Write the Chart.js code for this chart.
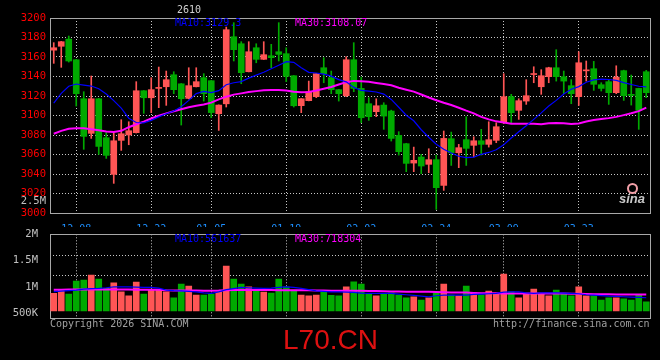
<!DOCTYPE html>
<html>
<head>
<meta charset="utf-8">
<script src="https://cdn.jsdelivr.net/npm/chart.js@4.4.1/dist/chart.umd.min.js"></script>
<style>
html,body{margin:0;padding:0;background:#000;width:660px;height:360px;overflow:hidden;}
#wrap{position:relative;width:660px;height:360px;background:#000;}
canvas{position:absolute;left:0;}
.t{position:absolute;font-family:'DejaVu Sans Mono',monospace;font-size:10px;line-height:10px;white-space:nowrap;z-index:5;}
</style>
</head>
<body>
<div id="wrap">
  <canvas id="main" width="660" height="227" style="top:0;z-index:2;"></canvas>
  <canvas id="vol" width="660" height="106" style="top:224px;z-index:1;"></canvas>

  <div class="t" style="left:177px;top:5px;color:#d0d0d0;">2610</div>
  <div class="t" style="left:175px;top:18px;color:#0000ff;">MA10:3129.3</div>
  <div class="t" style="left:295px;top:18px;color:#ff00ff;">MA30:3108.07</div>
  <div class="t" style="left:0;top:195px;width:46px;text-align:right;color:#c0c0c0;font-size:10.5px;">2.5M</div>

  <div class="t" style="left:175px;top:234px;color:#0000ff;">MA10:561637</div>
  <div class="t" style="left:295px;top:234px;color:#ff00ff;">MA30:718304</div>

  <div class="t" style="left:50px;top:319px;color:#a0a0a0;">Copyright 2026 SINA.COM</div>
  <div class="t" style="left:493px;top:319px;color:#a0a0a0;">http://finance.sina.com.cn</div>

  <div style="position:absolute;left:283px;top:326px;font-family:'Liberation Sans',Arial,sans-serif;font-size:28px;line-height:28px;color:#dd1111;z-index:5;">L70.CN</div>

  <div style="position:absolute;left:627px;top:183px;width:7px;height:7px;border:2px solid #f2a0a8;border-radius:50%;z-index:5;"></div>
  <div style="position:absolute;left:619px;top:192px;font-family:'Liberation Sans',Arial,sans-serif;font-weight:bold;font-style:italic;font-size:13px;line-height:13px;color:#c8c8c8;z-index:5;">sina</div>
</div>

<script>
// ---------- data ----------
const dates = ['12-03','12-04','12-05','12-08','12-09','12-10','12-11','12-12','12-15','12-16',
 '12-17','12-18','12-19','12-22','12-23','12-24','12-25','12-26','12-29','12-30',
 '12-31','01-05','01-06','01-07','01-08','01-09','01-12','01-13','01-14','01-15',
 '01-16','01-19','01-20','01-21','01-22','01-23','01-26','01-27','01-28','01-29',
 '01-30','02-02','02-03','02-04','02-05','02-06','02-09','02-10','02-11','02-12',
 '02-13','02-24','02-25','02-26','02-27','03-02','03-03','03-04','03-05','03-06',
 '03-09','03-10','03-11','03-12','03-13','03-16','03-17','03-18','03-19','03-20',
 '03-23','03-24','03-25','03-26','03-27','03-30','03-31','04-01','04-02','04-03'];

const tickDates = ['12-08','12-22','01-05','01-19','02-02','02-24','03-09','03-23'];

const openP = [3167.0,3171.0,3178.4,3157.2,3117.2,3081.7,3117.2,3077.2,3039.6,3074.5,
 3080.0,3082.4,3125.4,3118.2,3127.8,3129.5,3141.8,3132.5,3117.5,3129.5,
 3138.8,3135.7,3101.8,3112.0,3180.8,3173.6,3144.9,3169.5,3157.6,3161.3,
 3165.4,3163.4,3140.8,3110.1,3115.2,3119.3,3149.0,3138.8,3126.5,3120.3,
 3157.2,3127.8,3112.1,3103.9,3110.7,3104.6,3079.6,3071.1,3051.2,3057.4,
 3049.9,3054.7,3028.3,3076.2,3061.8,3075.2,3069.4,3074.1,3070.4,3074.5,
 3092.6,3119.3,3105.3,3114.8,3142.0,3129.5,3139.8,3149.0,3139.8,3130.6,
 3119.3,3145.8,3148.0,3131.6,3134.7,3123.4,3146.0,3121.7,3127.8,3144.9];

const highP = [3174.7,3176.0,3181.5,3157.5,3124.4,3140.5,3117.5,3082.4,3082.4,3095.7,
 3093.6,3134.7,3125.6,3138.8,3149.7,3145.6,3144.9,3132.8,3149.0,3149.0,
 3142.9,3135.9,3110.9,3190.7,3195.2,3175.7,3175.7,3173.6,3175.7,3173.0,
 3195.2,3169.5,3141.0,3117.4,3135.3,3143.1,3159.3,3145.6,3126.7,3160.3,
 3174.7,3139.4,3118.3,3117.2,3113.1,3105.5,3083.4,3071.5,3067.6,3060.1,
 3065.9,3059.4,3084.1,3083.0,3070.4,3098.8,3078.2,3085.8,3093.6,3092.6,
 3142.9,3121.7,3117.2,3136.7,3150.0,3147.0,3149.5,3167.5,3145.6,3136.7,
 3165.4,3155.9,3155.5,3133.6,3137.0,3151.0,3146.5,3141.5,3128.0,3146.3];

const lowP = [3153.5,3149.4,3154.8,3109.7,3065.3,3076.5,3060.1,3056.0,3030.4,3064.2,
 3070.0,3082.0,3102.2,3102.9,3108.0,3110.4,3122.4,3090.2,3117.0,3129.3,
 3114.8,3097.7,3084.7,3108.7,3155.9,3132.6,3144.7,3154.1,3157.4,3149.0,
 3155.9,3134.7,3108.7,3102.9,3115.0,3118.3,3133.6,3122.4,3114.8,3119.3,
 3124.4,3092.6,3095.0,3098.8,3085.8,3073.8,3059.4,3042.4,3042.4,3040.3,
 3041.3,3003.7,3023.2,3048.8,3046.5,3048.8,3057.4,3059.4,3067.6,3072.1,
 3091.6,3091.6,3096.0,3111.4,3133.6,3121.7,3133.6,3135.3,3122.4,3112.1,
 3110.4,3135.3,3125.8,3125.1,3111.4,3122.4,3115.5,3110.7,3085.8,3118.3];

const closeP = [3169.5,3175.7,3155.9,3122.4,3078.6,3117.2,3068.3,3059.1,3074.1,3081.3,
 3084.4,3125.4,3118.2,3126.5,3128.3,3136.7,3126.5,3117.2,3130.6,3134.7,
 3122.4,3103.0,3110.7,3188.0,3167.5,3143.9,3165.4,3157.6,3162.4,3159.3,
 3162.7,3140.1,3110.0,3117.2,3124.4,3142.9,3142.9,3126.5,3122.4,3157.2,
 3127.8,3097.7,3098.8,3110.0,3099.4,3076.5,3062.9,3050.9,3054.0,3048.2,
 3054.7,3026.0,3076.5,3061.8,3067.0,3066.3,3074.1,3070.4,3075.2,3088.5,
 3119.3,3102.9,3115.2,3120.3,3142.6,3140.8,3149.0,3139.8,3135.3,3122.4,
 3154.1,3146.5,3132.0,3127.8,3123.4,3139.4,3120.3,3120.6,3105.3,3123.4];

const ma10P = [3112.7,3122.7,3130.0,3132.3,3131.2,3130.2,3127.5,3122.0,3115.3,3107.5,
 3097.2,3092.8,3092.4,3095.0,3098.6,3101.8,3104.6,3109.0,3115.5,3122.5,
 3124.7,3123.5,3125.5,3131.5,3133.6,3134.8,3138.3,3141.4,3144.3,3148.0,
 3151.5,3155.2,3154.5,3149.0,3144.3,3143.6,3142.5,3140.4,3136.8,3134.5,
 3128.8,3125.7,3125.0,3124.1,3122.0,3116.5,3108.5,3100.3,3094.6,3085.4,
 3077.7,3070.5,3065.4,3061.6,3058.2,3056.8,3057.3,3060.2,3062.1,3064.8,
 3070.0,3076.9,3083.4,3089.5,3096.0,3102.7,3109.8,3115.5,3122.0,3127.0,
 3129.6,3134.1,3136.5,3137.3,3136.9,3136.1,3133.7,3131.8,3130.0,3129.3];

const ma30P = [3081.3,3084.2,3086.3,3087.0,3087.0,3086.0,3084.8,3083.5,3083.2,3084.3,
 3088.0,3091.0,3093.7,3096.9,3099.7,3102.2,3104.3,3106.4,3108.5,3110.0,
 3111.2,3113.2,3116.5,3119.3,3121.4,3122.7,3124.1,3125.0,3126.0,3126.1,
 3126.1,3125.6,3124.4,3123.9,3124.2,3125.6,3127.4,3129.3,3131.8,3134.2,
 3135.5,3135.2,3134.5,3133.4,3132.3,3131.0,3128.5,3126.5,3124.5,3121.5,
 3118.5,3115.7,3113.1,3110.7,3108.0,3105.0,3102.2,3098.6,3096.0,3094.0,
 3092.8,3091.6,3091.6,3091.6,3091.5,3091.0,3092.0,3092.2,3092.0,3091.3,
 3091.8,3093.8,3095.3,3096.4,3097.3,3098.6,3100.4,3102.3,3104.5,3108.07];

const volume = [881000,943000,868000,1113000,1132000,1226000,1151000,975000,1081000,911000,
 836000,1094000,868000,943000,943000,911000,798000,1057000,1019000,849000,
 849000,868000,911000,1396000,1151000,1057000,1006000,925000,906000,887000,
 1151000,1006000,943000,849000,836000,849000,925000,843000,836000,1006000,
 1100000,1057000,868000,836000,868000,892000,849000,798000,817000,755000,
 798000,881000,1057000,849000,836000,1019000,892000,849000,925000,881000,
 1245000,911000,798000,881000,962000,881000,836000,943000,868000,836000,
 1006000,836000,836000,755000,798000,798000,779000,755000,849000,723000];

const ma10V = [915000,925000,934000,943000,962000,972000,975000,988000,1006000,1006000,
 1006000,1000000,994000,994000,981000,943000,934000,930000,919000,911000,
 892000,881000,911000,953000,972000,994000,987000,981000,975000,981000,
 994000,1006000,994000,975000,953000,930000,919000,911000,911000,906000,
 900000,887000,881000,881000,881000,881000,868000,855000,843000,830000,
 817000,836000,849000,849000,849000,849000,862000,868000,874000,881000,
 906000,911000,911000,892000,881000,892000,892000,892000,887000,881000,
 874000,855000,849000,840000,830000,825000,817000,811000,806000,798000];

const ma30V = [950000,951000,953000,953000,954000,955000,955000,955000,954000,953000,
 953000,952000,951000,950000,948000,940000,937000,935000,934000,934000,
 933000,933000,934000,940000,943000,944000,944000,943000,943000,943000,
 942000,942000,942000,941000,940000,938000,935000,932000,930000,930000,
 930000,929000,928000,926000,922000,918000,915000,914000,913000,912000,
 910000,905000,902000,900000,898000,896000,890000,886000,884000,882000,
 881000,881000,881000,880000,880000,880000,879000,878000,877000,876000,
 874000,868000,865000,864000,863000,862000,862000,862000,862000,862000];

const priceMin = 3000, priceMax = 3200, priceStep = 20;
const volTickValues = [500000, 1000000, 1500000, 2000000];
const volTickLabels = ['500K', '1M', '1.5M', '2M'];
const volMin = 415000, volMax = 2000000, volBase = 547000;
// hidden grid scale for the volume pane's dotted rules
const volGridMin = -0.157, volGridMax = 4.086;

// ---------- style ----------
const UP = '#ff5555', DOWN = '#00aa00';
const GRID = '#c8c8c8';
const MONO = 'DejaVu Sans Mono';
const candleColors = openP.map((o, i) => closeP[i] >= o ? UP : DOWN);

// frame + dotted date rules, placed at the category scale's own tick pixels
const frame = {
  id: 'frame',
  beforeDatasetsDraw(chart) {
    const { ctx, chartArea: a } = chart;
    const s = chart.scales.x;
    ctx.save();
    ctx.strokeStyle = GRID;
    ctx.lineWidth = 1;
    ctx.setLineDash([1, 2]);
    s.ticks.forEach((t, i) => {
      const x = Math.round(s.getPixelForTick(i) - 0.5) + 0.5;
      ctx.beginPath();
      ctx.moveTo(x, a.top);
      ctx.lineTo(x, a.bottom);
      ctx.stroke();
    });
    ctx.setLineDash([]);
    ctx.strokeStyle = '#a8a8a8';
    ctx.strokeRect(Math.round(a.left) + 0.5, Math.round(a.top) + 0.5,
                   Math.round(a.right - a.left), Math.round(a.bottom - a.top));
    ctx.restore();
  }
};

function xAxis(showLabels, h) {
  return {
    type: 'category',
    offset: true,
    afterBuildTicks: (s) => {
      s.ticks = s.ticks.filter(t => tickDates.includes(dates[t.value]));
    },
    grid: { display: false },
    border: { display: false },
    ticks: {
      display: showLabels,
      autoSkip: false,
      maxRotation: 0,
      padding: 2,
      color: '#1e90ff',
      font: { family: MONO, size: 10 }
    },
    afterFit: (s) => { s.height = h; }
  };
}

Chart.defaults.animation = false;

new Chart(document.getElementById('main'), {
  data: {
    labels: dates,
    datasets: [
      { type: 'line', data: ma10P, borderColor: '#0000ff', borderWidth: 1.2, pointRadius: 0, tension: 0, order: 0 },
      { type: 'line', data: ma30P, borderColor: '#ff00ff', borderWidth: 2, pointRadius: 0, tension: 0, order: 1 },
      { type: 'bar', data: openP.map((o, i) => [o, closeP[i]]), backgroundColor: candleColors,
        barThickness: 6, minBarLength: 1, grouped: false, order: 2 },
      { type: 'bar', data: lowP.map((l, i) => [l, highP[i]]), backgroundColor: candleColors,
        barThickness: 1, grouped: false, order: 3 }
    ]
  },
  options: {
    responsive: false,
    devicePixelRatio: 1,
    animation: false,
    layout: { padding: { top: 18, right: 10, left: 0, bottom: 0 } },
    plugins: { legend: { display: false }, tooltip: { enabled: false } },
    scales: {
      x: xAxis(true, 14),
      y: {
        type: 'linear',
        min: priceMin, max: priceMax,
        grid: { color: GRID, drawTicks: false, lineWidth: 1 },
        border: { display: false, dash: [1, 2] },
        ticks: {
          stepSize: priceStep,
          padding: 4,
          color: '#ff0000',
          font: { family: MONO, size: 10.5 },
          callback: (v) => String(v)
        },
        afterFit: (s) => { s.width = 50; }
      }
    }
  },
  plugins: [frame]
});

new Chart(document.getElementById('vol'), {
  data: {
    labels: dates,
    datasets: [
      { type: 'line', data: ma10V, borderColor: '#0000ff', borderWidth: 1.2, pointRadius: 0, tension: 0, order: 0, yAxisID: 'y' },
      { type: 'line', data: ma30V, borderColor: '#ff00ff', borderWidth: 2, pointRadius: 0, tension: 0, order: 1, yAxisID: 'y' },
      { type: 'bar', data: volume, base: volBase, backgroundColor: candleColors,
        barThickness: 6, grouped: false, order: 2, yAxisID: 'y' }
    ]
  },
  options: {
    responsive: false,
    devicePixelRatio: 1,
    animation: false,
    layout: { padding: { top: 7, right: 10, left: 0, bottom: 0 } },
    plugins: { legend: { display: false }, tooltip: { enabled: false } },
    scales: {
      x: xAxis(false, 12),
      y: {
        type: 'linear',
        position: 'left',
        min: volMin, max: volMax,
        grid: { display: false },
        border: { display: false },
        afterBuildTicks: (s) => { s.ticks = volTickValues.map(v => ({ value: v })); },
        ticks: {
          padding: 4,
          color: '#c0c0c0',
          font: { family: MONO, size: 10.5 },
          callback: (v) => volTickLabels[volTickValues.indexOf(v)]
        },
        afterFit: (s) => { s.width = 50; }
      },
      yg: {
        type: 'linear',
        position: 'left',
        min: volGridMin, max: volGridMax,
        afterBuildTicks: (s) => { s.ticks = s.ticks.filter(t => t.value >= 2); },
        grid: { drawTicks: false, lineWidth: 1, color: GRID },
        border: { display: false, dash: [1, 2] },
        ticks: { display: false, stepSize: 1 },
        afterFit: (s) => { s.width = 0; }
      }
    }
  },
  plugins: [frame]
});
</script>
</body>
</html>
